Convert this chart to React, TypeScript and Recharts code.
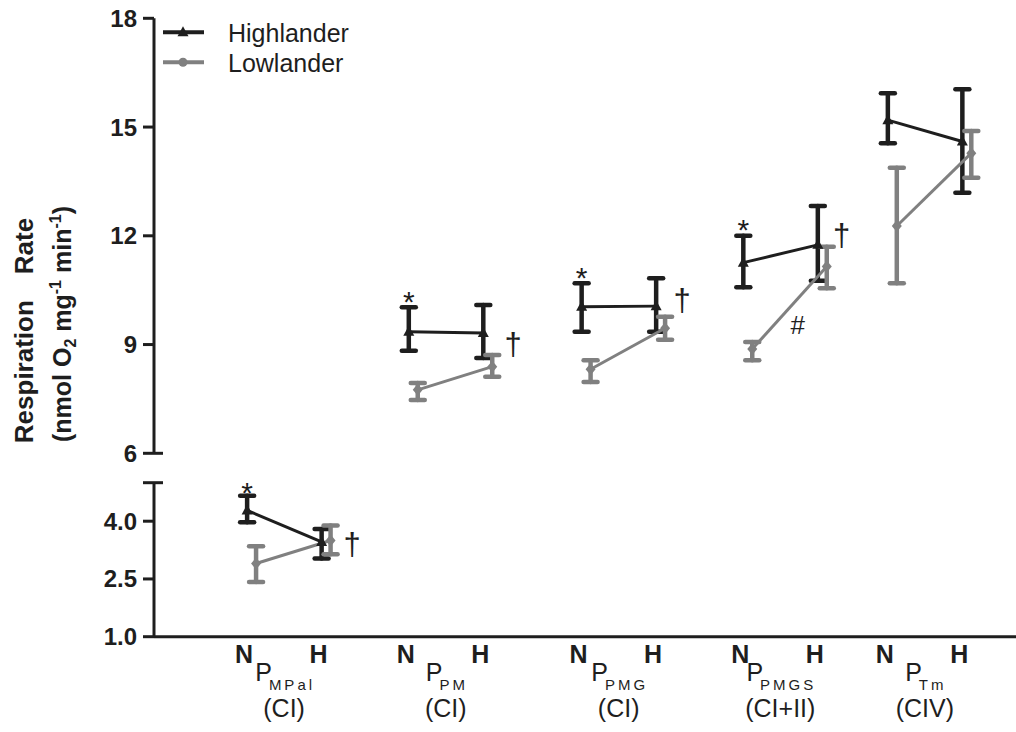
import React from 'react';
import { ComposedChart, Line, ErrorBar, XAxis, YAxis, Scatter, Legend } from 'recharts';

const FONT = '"Liberation Sans", Arial, Helvetica, sans-serif';
const BLACK = '#1e1e1e';
const GRAY = '#808080';

// ---- categories ----
const groupLabels = ['MPal', 'PM', 'PMG', 'PMGS', 'Tm'];
const complexLabels = ['(CI)', '(CI)', '(CI)', '(CI+II)', '(CIV)'];
const conditionLabels = ['N', 'H'];
const seriesNames = ['Highlander', 'Lowlander'];
// x position (axis units) of the N condition of each group; H sits one unit to the right
const groupPositions = [1.25, 3.42, 5.74, 7.91, 9.85];

// ---- Highlander (black) ----
const highlanderN = [4.28, 9.35, 10.04, 11.26, 15.19];
const highlanderNUpper = [4.66, 10.03, 10.69, 12.0, 15.93];
const highlanderNLower = [3.97, 8.83, 9.35, 10.58, 14.55];
const highlanderH = [3.46, 9.32, 10.06, 11.75, 14.6];
const highlanderHUpper = [3.8, 10.09, 10.83, 12.82, 16.04];
const highlanderHLower = [3.03, 8.63, 9.35, 10.76, 13.19];

// ---- Lowlander (gray) ----
const lowlanderN = [2.9, 7.75, 8.32, 8.88, 12.27];
const lowlanderNUpper = [3.35, 7.94, 8.57, 9.07, 13.88];
const lowlanderNLower = [2.42, 7.47, 7.97, 8.57, 10.69];
const lowlanderH = [3.5, 8.39, 9.45, 11.15, 14.28];
const lowlanderHUpper = [3.89, 8.71, 9.77, 11.7, 14.89];
const lowlanderHLower = [3.14, 8.11, 9.13, 10.55, 13.6];

// ---- significance marks (data coordinates) ----
const starY = [4.92, 10.37, 11.03, 12.36];
const daggerX = [2.66, 4.82, 7.09, 9.23];
const daggerY = [3.32, 8.93, 10.15, 11.94];
const hashX = [8.64];
const hashY = [9.54];

// ---- axis ticks ----
const upperTicks = [6, 9, 12, 15, 18];
const upperTickLabels = ['6', '9', '12', '15', '18'];
const lowerTicks = [1, 2.5, 4, 5];
const lowerTickLabels = ['1.0', '2.5', '4.0', ''];

const X_MAX = 11.57;
const GRAY_SHIFT = 0.12;

type Pt = { x: number; y: number; err: [number, number] };

function buildSeries(
  nMean: number[], nUp: number[], nLow: number[],
  hMean: number[], hUp: number[], hLow: number[], shift: number
): Pt[][] {
  return groupPositions.map((p, g) => [
    { x: p + shift, y: nMean[g], err: [nMean[g] - nLow[g], nUp[g] - nMean[g]] },
    { x: p + 1 + shift, y: hMean[g], err: [hMean[g] - hLow[g], hUp[g] - hMean[g]] },
  ]);
}

const highSeries = buildSeries(highlanderN, highlanderNUpper, highlanderNLower, highlanderH, highlanderHUpper, highlanderHLower, 0);
const lowSeries = buildSeries(lowlanderN, lowlanderNUpper, lowlanderNLower, lowlanderH, lowlanderHUpper, lowlanderHLower, GRAY_SHIFT);

type Note = { x: number; y: number; label: string };
const starNotes: Note[] = starY.map((y, i) => ({ x: groupPositions[i], y, label: '*' }));
const daggerNotes: Note[] = daggerY.map((y, i) => ({ x: daggerX[i], y, label: '†' }));
const hashNotes: Note[] = hashY.map((y, i) => ({ x: hashX[i], y, label: '#' }));
const lowerNotes = [starNotes[0], daggerNotes[0]];
const upperNotes = [...starNotes.slice(1), ...daggerNotes.slice(1), ...hashNotes];

const xTicks = groupPositions.flatMap((p) => [p, p + 1]);

const triangleDot = (p: any) => {
  const { cx, cy, index } = p;
  return <path key={`t-${index}`} d={`M${cx},${cy - 6}L${cx + 5.5},${cy + 4}L${cx - 5.5},${cy + 4}Z`} fill={BLACK} />;
};
const diamondDot = (p: any) => {
  const { cx, cy, index } = p;
  return <path key={`d-${index}`} d={`M${cx},${cy - 6}L${cx + 5},${cy}L${cx},${cy + 6}L${cx - 5},${cy}Z`} fill={GRAY} />;
};

const noteShape = (p: any) => {
  const label = p.payload.label;
  const size = label === '*' ? 30 : label === '†' ? 31 : 26;
  const dy = label === '*' ? 17 : label === '†' ? 8 : 9.5;
  return (
    <text x={p.cx} y={p.cy + dy} textAnchor="middle" fontSize={size} fontFamily={FONT} fill={BLACK}>
      {label}
    </text>
  );
};

const YTick = (props: any) => {
  const { x, y, payload, cap, values, labels } = props;
  const axisX = x + 17;
  const isCap = payload.value === cap;
  const idx = values.indexOf(payload.value);
  return (
    <g>
      <line x1={axisX - 11} x2={isCap ? axisX + 9 : axisX} y1={y} y2={y} stroke={BLACK} strokeWidth={3} />
      <text x={x} y={y} dy={8.5} textAnchor="end" fontSize={24} fontWeight="bold" fontFamily={FONT} fill={BLACK}>
        {idx >= 0 ? labels[idx] : ''}
      </text>
    </g>
  );
};

const XTick = (props: any) => {
  const { x, y, index } = props;
  const g = Math.floor(index / 2);
  const isN = index % 2 === 0;
  return (
    <g>
      <text x={x - 3} y={y + 25} textAnchor="middle" fontSize={25} fontWeight="bold" fontFamily={FONT} fill={BLACK}>
        {conditionLabels[index % 2]}
      </text>
      {isN && (
        <g>
          <text x={x + 38} y={y + 43} textAnchor="middle" fontSize={25} fontFamily={FONT} fill={BLACK}>
            P<tspan fontSize={15} dx={-3} dy={9} letterSpacing={3}>{groupLabels[g]}</tspan>
          </text>
          <text x={x + 37} y={y + 79} textAnchor="middle" fontSize={25} fontFamily={FONT} fill={BLACK}>
            {complexLabels[g]}
          </text>
        </g>
      )}
    </g>
  );
};

const LegendContent = () => (
  <svg width={380} height={80}>
    {seriesNames.map((name, i) => {
      const cy = 32.3 + i * 30;
      const color = i === 0 ? BLACK : GRAY;
      return (
        <g key={name}>
          <line x1={163} x2={204} y1={cy} y2={cy} stroke={color} strokeWidth={4} />
          {i === 0 ? (
            <path d={`M183,${cy - 6}L188.5,${cy + 4}L177.5,${cy + 4}Z`} fill={color} />
          ) : (
            <circle cx={183} cy={cy} r={4.5} fill={color} />
          )}
          <text x={228} y={cy + 9.2} fontSize={25} fontFamily={FONT} fill={BLACK}>{name}</text>
        </g>
      );
    })}
  </svg>
);

function renderSeries(groups: number[]) {
  const out: React.ReactNode[] = [];
  groups.forEach((g) => {
    out.push(
      <Line key={`h${g}`} data={highSeries[g]} dataKey="y" type="linear" stroke={BLACK} strokeWidth={3}
        dot={triangleDot} activeDot={false} legendType="none" isAnimationActive={false}>
        <ErrorBar dataKey="err" direction="y" width={7} stroke={BLACK} strokeWidth={4.5} strokeLinecap="round" isAnimationActive={false} />
      </Line>
    );
  });
  groups.forEach((g) => {
    out.push(
      <Line key={`l${g}`} data={lowSeries[g]} dataKey="y" type="linear" stroke={GRAY} strokeWidth={3}
        dot={diamondDot} activeDot={false} legendType="none" isAnimationActive={false}>
        <ErrorBar dataKey="err" direction="y" width={7} stroke={GRAY} strokeWidth={4.5} strokeLinecap="round" isAnimationActive={false} />
      </Line>
    );
  });
  return out;
}

export default function App() {
  return (
    <div style={{ position: 'absolute', left: 0, top: 0, width: 1016, height: 732, background: '#fff', fontFamily: FONT }}>
      <div style={{ position: 'absolute', left: 0, top: 0 }}>
        <ComposedChart width={1016} height={480} margin={{ top: 18.3, right: 0, bottom: 26.7, left: 0 }}>
          <XAxis type="number" dataKey="x" domain={[0, X_MAX]} hide allowDataOverflow />
          <YAxis type="number" domain={[6, 18]} ticks={upperTicks} interval={0} width={154} tickSize={11} tickMargin={6}
            tickLine={false} axisLine={{ stroke: BLACK, strokeWidth: 3 }} allowDataOverflow
            tick={<YTick cap={6} values={upperTicks} labels={upperTickLabels} />} />
          <Legend layout="vertical" align="center" verticalAlign="middle" content={<LegendContent />}
            wrapperStyle={{ position: 'absolute', left: 0, top: 0, width: 380, height: 80 }} />
          {renderSeries([1, 2, 3, 4])}
          <Scatter data={upperNotes} dataKey="y" shape={noteShape} legendType="none" isAnimationActive={false} />
        </ComposedChart>
      </div>
      <div style={{ position: 'absolute', left: 0, top: 460 }}>
        <ComposedChart width={1016} height={272} margin={{ top: 22.7, right: 0, bottom: 0, left: 0 }}>
          <XAxis type="number" dataKey="x" domain={[0, X_MAX]} ticks={xTicks} interval={0} height={95.3}
            tickLine={false} tickSize={1} tickMargin={0} axisLine={{ stroke: BLACK, strokeWidth: 3 }} allowDataOverflow
            tick={<XTick />} />
          <YAxis type="number" domain={[1, 5]} ticks={lowerTicks} interval={0} width={154} tickSize={11} tickMargin={6}
            tickLine={false} axisLine={{ stroke: BLACK, strokeWidth: 3 }} allowDataOverflow
            tick={<YTick cap={5} values={lowerTicks} labels={lowerTickLabels} />} />
          {renderSeries([0])}
          <Scatter data={lowerNotes} dataKey="y" shape={noteShape} legendType="none" isAnimationActive={false} />
        </ComposedChart>
      </div>
      <svg width={1016} height={732} style={{ position: 'absolute', left: 0, top: 0, pointerEvents: 'none' }}>
        <text transform="translate(33,330.5) rotate(-90)" textAnchor="middle" fontSize={26} fontWeight="bold" fontFamily={FONT} fill={BLACK}>
          Respiration<tspan dx={26}>Rate</tspan>
        </text>
        <text transform="translate(71,324) rotate(-90)" textAnchor="middle" fontSize={25} fontWeight="bold" fontFamily={FONT} fill={BLACK}>
          (nmol O<tspan fontSize={16} dy={5}>2</tspan>
          <tspan dy={-5}> mg</tspan>
          <tspan fontSize={16} dy={-10}>-1</tspan>
          <tspan dy={10}> min</tspan>
          <tspan fontSize={16} dy={-10}>-1</tspan>
          <tspan dy={10}>)</tspan>
        </text>
      </svg>
    </div>
  );
}
